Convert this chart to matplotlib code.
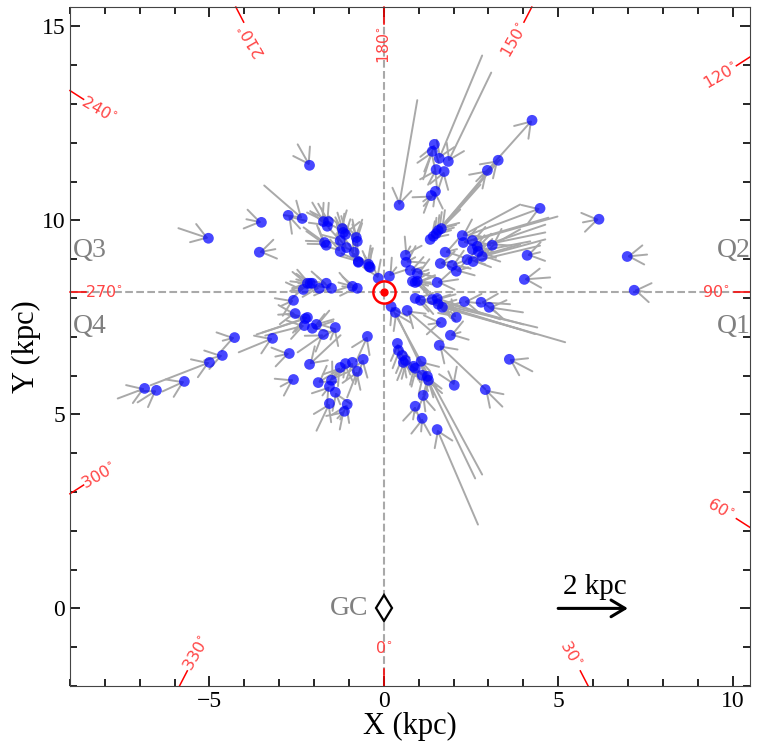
import numpy as np
import matplotlib.pyplot as plt
from matplotlib.ticker import MultipleLocator

plt.rcParams['font.family'] = ['Liberation Serif', 'DejaVu Serif']
plt.rcParams['mathtext.fontset'] = 'dejavusans'

R0 = 8.15  # Sun - GC distance (kpc)

# source positions (kpc)
x = [-2.13, -5.03, -3.51, -3.57, -2.74, -2.34, -1.73, -1.59, -1.62, -1.19,
     -1.16, -1.10, -0.79, -0.76, -1.70, -1.65, -1.25, -1.07, -1.25, -0.85,
     -0.73, -0.44, -0.39, -0.16, -2.19, -2.11, -2.05, -1.85, -1.65, -1.50,
     -0.90, -0.76, -2.31, -2.59, -2.54, -2.25, -2.19, -2.28, -2.05, -1.93,
     -1.73, -1.39, -3.19, -4.28, -4.63, -5.00, -5.72, -6.52, -6.86, -2.71,
     -2.13, -2.59, -1.88, -1.50, -1.56, -1.39, -1.56, -1.05, -1.13, -1.25,
     -1.10, -0.90, -0.76, -0.59, -0.47, 0.44, 1.45, 1.39, 1.59, 1.85,
     1.50, 1.73, 1.48, 1.36, 4.25, 3.28, 2.97, 1.42, 1.50, 1.56,
     1.65, 1.33, 4.48, 6.17, 6.98, 7.18, 4.11, 4.03, 2.25, 2.28,
     2.54, 2.68, 2.71, 2.54, 2.82, 2.39, 2.56, 3.11, 1.76, 1.62,
     1.96, 2.08, 1.53, 0.62, 0.64, 0.76, 0.96, 0.82, 0.96, 0.90,
     0.16, -0.73, -0.42, 0.90, 1.05, 1.39, 1.53, 1.56, 1.68, 2.31,
     2.79, 3.02, 0.67, 1.65, 2.08, 1.91, 1.59, 2.91, 3.60, 2.02,
     0.21, 0.33, 1.53, 0.39, 0.42, 0.53, 0.62, 0.56, 0.85, 0.90,
     1.07, 1.10, 1.25, 1.28, 1.13, 0.90, 1.10]
y = [11.42, 9.54, 9.95, 9.18, 10.13, 10.05, 9.97, 9.97, 9.85, 9.79,
     9.69, 9.64, 9.56, 9.46, 9.43, 9.36, 9.48, 9.30, 9.20, 9.18,
     8.94, 8.87, 8.79, 8.51, 8.38, 8.38, 8.38, 8.25, 8.38, 8.25,
     8.30, 8.25, 8.22, 7.94, 7.60, 7.47, 7.50, 7.29, 7.22, 7.32,
     7.06, 7.24, 6.96, 6.98, 6.52, 6.34, 5.85, 5.62, 5.67, 6.57,
     6.29, 5.90, 5.82, 5.88, 5.72, 5.57, 5.28, 5.26, 5.08, 6.21,
     6.31, 6.34, 6.11, 6.42, 7.01, 10.39, 11.96, 11.78, 11.60, 11.52,
     11.31, 11.26, 10.75, 10.64, 12.58, 11.55, 11.29, 9.59, 9.66, 9.74,
     9.79, 9.51, 10.31, 10.03, 9.07, 8.20, 9.10, 8.48, 9.61, 9.43,
     9.48, 9.33, 9.20, 9.25, 9.07, 8.99, 8.94, 9.36, 9.18, 8.89,
     8.84, 8.69, 8.40, 9.10, 8.92, 8.71, 8.63, 8.43, 8.43, 8.40,
     8.56, 8.92, 8.81, 7.99, 7.94, 7.96, 7.99, 7.84, 7.76, 7.91,
     7.89, 7.76, 7.68, 7.37, 7.50, 7.04, 6.78, 5.64, 6.42, 5.75,
     7.78, 7.63, 4.61, 6.83, 6.65, 6.52, 6.39, 6.34, 6.24, 6.19,
     6.37, 6.01, 5.98, 5.88, 5.49, 5.21, 4.90]
# arrow components (kpc); arrow runs from (x-u, y-v) to (x, y)
u = [0.34, 0.86, 0.43, -0.46, -0.34, 1.09, 0.32, 0.29, 0.49, 0.14,
     0.23, -0.14, 0.11, 0.14, 0.60, 0.57, 0.34, 0.32, 0.29, 0.26,
     0.23, 0.17, 0.17, 0.17, 0.49, 0.40, 0.40, 0.54, 0.40, 0.37,
     0.40, 0.43, 0.37, 0.37, 0.49, 1.40, 1.29, 1.12, -0.60, -0.49,
     0.74, 0.14, 0.97, 0.34, 0.52, 1.69, 0.63, 0.54, 0.77, 0.40,
     -0.89, 0.37, -0.49, -0.20, 0.20, -0.14, 0.37, 0.20, 0.20, 0.29,
     0.06, 0.17, 0.29, 0.23, 0.32, -0.52, 0.32, 0.23, -1.23, -1.23,
     0.23, 0.17, 0.06, 0.23, 1.43, 0.52, 0.32, -1.63, -1.83, -0.92,
     -1.12, -0.86, 2.01, 0.46, -0.57, -0.37, -0.37, -0.74, -1.66, -2.44,
     -2.44, -1.95, -1.49, -2.09, -1.81, -1.52, -1.92, -0.80, -0.34, -0.34,
     -0.29, -0.34, -0.60, -0.14, -0.26, -0.34, -0.32, -0.52, -0.43, -0.37,
     -0.20, 0.17, 0.09, -3.50, -4.15, -2.61, -1.81, -2.78, -2.23, -0.46,
     -0.83, -0.97, -1.03, 0.37, 0.17, -0.29, -1.32, -0.49, -0.66, 0.17,
     -2.61, -2.29, -1.17, -0.09, -0.11, -0.09, -0.14, -0.09, -0.14, -0.14,
     -0.26, -0.17, -0.17, -0.14, -0.06, 0.06, 0.03]
v = [-0.54, -0.26, -0.08, -0.08, 0.34, -0.85, -0.49, -0.46, -0.39, -0.41,
     -0.39, -0.39, -0.46, -0.44, -0.39, -0.36, -0.34, -0.34, -0.31, -0.34,
     -0.31, -0.34, -0.31, -0.36, -0.05, -0.10, 0.00, -0.03, -0.05, -0.05,
     -0.10, -0.05, 0.05, 0.15, 0.03, 0.41, 0.39, 0.26, -0.18, -0.13,
     0.46, 0.31, 0.36, 0.08, 0.13, 0.59, 0.26, 0.31, 0.26, 0.08,
     -0.75, 0.18, -0.28, -0.28, 0.23, 0.31, 0.70, 0.39, 0.18, 0.34,
     0.36, 0.44, 0.67, 0.64, 0.64, -2.71, 0.90, 0.52, -2.65, -2.29,
     0.39, 0.46, 0.39, 0.15, 1.44, 0.44, 0.28, -1.73, -1.91, -0.93,
     -1.13, -0.77, 0.67, 0.08, -0.05, 0.05, -0.08, -0.05, -0.80, -0.64,
     -0.62, -0.36, -0.26, -0.64, -0.44, -0.39, -0.41, -0.41, -0.08, -0.05,
     -0.10, -0.10, -0.08, -0.23, -0.13, -0.08, -0.10, 0.03, 0.08, 0.08,
     -0.23, -0.18, -0.23, 0.75, 1.08, 0.64, 0.54, 0.77, 0.57, 0.05,
     0.05, 0.13, 0.80, 0.05, -0.15, -0.08, 1.13, 0.44, 0.31, -0.36,
     4.33, 4.28, 2.45, 0.46, 0.44, 0.41, 0.36, 0.39, 0.34, 0.36,
     0.26, 0.41, 0.46, 0.44, 0.41, 0.34, 0.34]

glon = [0, 30, 60, 90, 120, 150, 180, 210, 240, 270, 300, 330]
glon_rot = [0, -60, -30, 0, 30, 60, 90, 120, -30, 0, 30, 60]

quad_names = ['Q1', 'Q2', 'Q3', 'Q4']
quad_x = [9.56, 9.56, -8.92, -8.92]
quad_y = [7.27, 9.23, 9.23, 7.27]

xmin, xmax, ymin, ymax = -9, 10.5, -2, 15.5

fig = plt.figure(figsize=(7.58, 7.55), dpi=100)
ax = fig.add_axes([0.0923, 0.0914, 0.8971, 0.8993])
ax.set_xlim(xmin, xmax)
ax.set_ylim(ymin, ymax)

# quadrant divider lines through the Sun
ax.axvline(0, color='darkgrey', ls='--', lw=1.5, zorder=1)
ax.axhline(R0, color='darkgrey', ls='--', lw=1.5, zorder=1)

# galactic longitude marks at the frame
for l, rot in zip(glon, glon_rot):
    dx, dy = np.sin(np.radians(l)), -np.cos(np.radians(l))
    ts = []
    if dx > 1e-9:
        ts.append((xmax - 0) / dx)
    if dx < -1e-9:
        ts.append((xmin - 0) / dx)
    if dy > 1e-9:
        ts.append((ymax - R0) / dy)
    if dy < -1e-9:
        ts.append((ymin - R0) / dy)
    t = min(ts)
    ax.plot([dx * t, dx * (t - 0.45)], [R0 + dy * t, R0 + dy * (t - 0.45)],
            color='red', lw=1.1, zorder=2, clip_on=False)
    tl = t - 0.97
    ax.text(dx * tl, R0 + dy * tl, f'{l}$^{{\\circ}}$', color='#ff4444',
            fontsize=11.5, family='DejaVu Sans', rotation=rot,
            ha='center', va='center', rotation_mode='anchor', zorder=2)

# motion vectors
for xi, yi, ui, vi in zip(x, y, u, v):
    ax.annotate('', xy=(xi, yi), xytext=(xi - ui, yi - vi),
                arrowprops=dict(arrowstyle='->,head_length=0.45,head_width=0.3',
                                color='darkgrey', lw=1.4, mutation_scale=23,
                                shrinkA=0, shrinkB=0), zorder=3)

ax.scatter(x, y, s=60, color='blue', alpha=0.72, edgecolors='none', zorder=4)

# Sun and Galactic centre
ax.plot(0, R0, 'o', ms=16, mfc='none', mec='red', mew=1.8, zorder=5)
ax.plot(0, R0, 'o', ms=5, color='red', zorder=5)
ax.plot(0, 0, 'd', ms=13, mfc='white', mec='black', mew=1.6, zorder=5)
ax.text(-0.45, 0, 'GC', color='grey', fontsize=20, ha='right', va='center')

for name, qx, qy in zip(quad_names, quad_x, quad_y):
    ax.text(qx, qy, name, color='grey', fontsize=20, ha='left', va='center',
            clip_on=True)

# scale arrow
ax.annotate('', xy=(7.0, 0), xytext=(5.0, 0),
            arrowprops=dict(arrowstyle='->,head_length=0.5,head_width=0.3',
                            color='black', lw=2.2, mutation_scale=20,
                            shrinkA=0, shrinkB=0))
ax.text(6.06, 0.55, '2 kpc', fontsize=21, ha='center', va='center')

ax.xaxis.set_major_locator(MultipleLocator(5))
ax.yaxis.set_major_locator(MultipleLocator(5))
ax.xaxis.set_minor_locator(MultipleLocator(1))
ax.yaxis.set_minor_locator(MultipleLocator(1))
ax.tick_params(which='both', direction='in', top=True, right=True, width=1.2)
ax.tick_params(which='major', length=7, labelsize=17)
ax.tick_params(which='minor', length=5)
for sp in ax.spines.values():
    sp.set_color('#444444')

ax.set_xlabel('X (kpc)', fontsize=22, labelpad=0)
ax.set_ylabel('Y (kpc)', fontsize=22, labelpad=0)

fig.savefig('out.png', dpi=100)
